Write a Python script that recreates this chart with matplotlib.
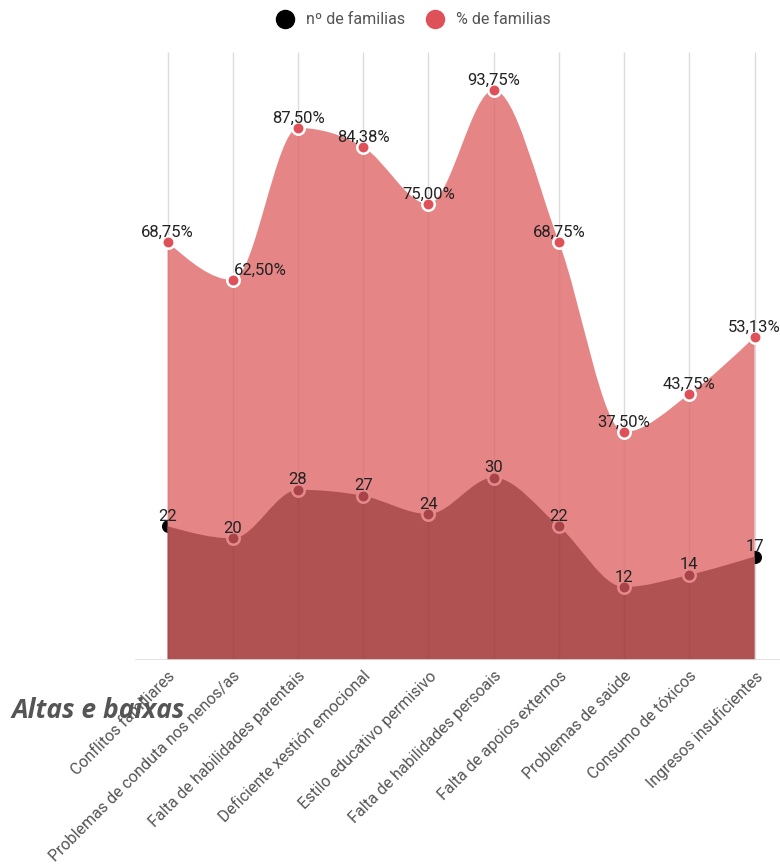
import numpy as np
import matplotlib.pyplot as plt
from matplotlib.path import Path
from matplotlib.patches import PathPatch
from matplotlib.lines import Line2D

# =====================================================
# DATA
# =====================================================

categories = [
    "Conflitos familiares",
    "Problemas de conduta nos nenos/as",
    "Falta de habilidades parentais",
    "Deficiente xestión emocional",
    "Estilo educativo permisivo",
    "Falta de habilidades persoais",
    "Falta de apoios externos",
    "Problemas de saúde",
    "Consumo de tóxicos",
    "Ingresos insuficientes",
]

pct_familias = [68.75, 62.50, 87.50, 84.38, 75.00, 93.75, 68.75, 37.50, 43.75, 53.13]
n_familias = [22, 20, 28, 27, 24, 30, 22, 12, 14, 17]

# =====================================================
# COLOURS
# =====================================================

pct_fill = "#e68586"
pct_marker = "#df5158"
n_fill = "#b05152"
n_marker = "#a8434a"
text_grey = "#555555"

plt.rcParams["font.family"] = ["Roboto", "DejaVu Sans"]


def monotone_slopes(y):
    # same slopes as d3.curveMonotoneX (unit spacing)
    y = np.asarray(y, dtype=float)
    n = len(y)
    s = np.diff(y)
    m = np.zeros(n)
    for k in range(1, n - 1):
        s0, s1 = s[k - 1], s[k]
        p = (s0 + s1) / 2
        m[k] = (np.sign(s0) + np.sign(s1)) * min(abs(s0), abs(s1), 0.5 * abs(p))
    m[0] = (3 * s[0] - m[1]) / 2
    m[-1] = (3 * s[-1] - m[-2]) / 2
    return m


def area_path(y):
    y = np.asarray(y, dtype=float)
    m = monotone_slopes(y)
    verts = [(0, 0), (0, y[0])]
    codes = [Path.MOVETO, Path.LINETO]
    for i in range(len(y) - 1):
        verts += [(i + 1 / 3, y[i] + m[i] / 3),
                  (i + 1 - 1 / 3, y[i + 1] - m[i + 1] / 3),
                  (i + 1, y[i + 1])]
        codes += [Path.CURVE4] * 3
    verts += [(len(y) - 1, 0), (0, 0)]
    codes += [Path.LINETO, Path.CLOSEPOLY]
    return Path(verts, codes)


fig = plt.figure(figsize=(7.8, 8.68), dpi=100)
ax = fig.add_axes([135 / 780, 208 / 868, 645 / 780, 608 / 868])

x = np.arange(len(categories))

# grid lines behind everything
ax.vlines(x, 0, 100, color="#e6e6e6", linewidth=1, zorder=0)

# hidden black markers (only peek out at the edges)
ax.scatter(x, n_familias, s=70, color="black", zorder=1)

ax.add_patch(PathPatch(area_path(pct_familias), facecolor=pct_fill,
                       edgecolor="none", zorder=2))
ax.add_patch(PathPatch(area_path(n_familias), facecolor=n_fill,
                       edgecolor="none", zorder=3))

# faint grid lines showing through the fills
ax.vlines(x, 0, 100, color=(0, 0, 0, 0.045), linewidth=1, zorder=4)
ax.axhline(0, color="#dddddd", linewidth=1.2, zorder=4)

ax.scatter(x, pct_familias, s=80, color=pct_marker, edgecolor="white",
           linewidth=1.8, zorder=6)
ax.scatter(x[1:-1], n_familias[1:-1], s=80, color=n_marker,
           edgecolor="#e58a8a", linewidth=1.8, zorder=6)

for i, v in enumerate(pct_familias):
    dx = 27 if i == 1 else 0
    ax.annotate(f"{v:.2f}%".replace(".", ","), (i, v), xytext=(dx, 10),
                textcoords="offset pixels", ha="center", va="center",
                fontsize=12, color="#222222", zorder=7)

for i, v in enumerate(n_familias):
    ax.annotate(str(v), (i, v), xytext=(0, 10), textcoords="offset pixels",
                ha="center", va="center", fontsize=12, color="#222222", zorder=7)

ax.set_xlim(-0.5, 9.39)
ax.set_ylim(0, 100)
ax.set_yticks([])
ax.set_xticks(x)
ax.set_xticklabels(categories, rotation=45, ha="right", va="top",
                   rotation_mode="anchor", fontsize=11.5, color=text_grey)
ax.tick_params(axis="x", length=0, pad=6)
for spine in ax.spines.values():
    spine.set_visible(False)

# legend
handles = [
    Line2D([], [], marker="o", linestyle="none", markersize=13,
           markerfacecolor="black", markeredgecolor="black", label="nº de familias"),
    Line2D([], [], marker="o", linestyle="none", markersize=13,
           markerfacecolor=pct_marker, markeredgecolor=pct_marker, label="% de familias"),
]
fig.legend(handles=handles, loc="center", bbox_to_anchor=(410 / 780, 1 - 20 / 868),
           ncol=2, frameon=False, fontsize=11.5, labelcolor=text_grey,
           handletextpad=0.3, columnspacing=0.9)

fig.text(12 / 780, 1 - 710 / 868, "Altas e baixas", fontsize=19,
         fontweight="bold", fontstyle="italic", family=["Open Sans", "DejaVu Sans"],
         color=text_grey, va="center", ha="left")

fig.savefig("out.png", dpi=100)
